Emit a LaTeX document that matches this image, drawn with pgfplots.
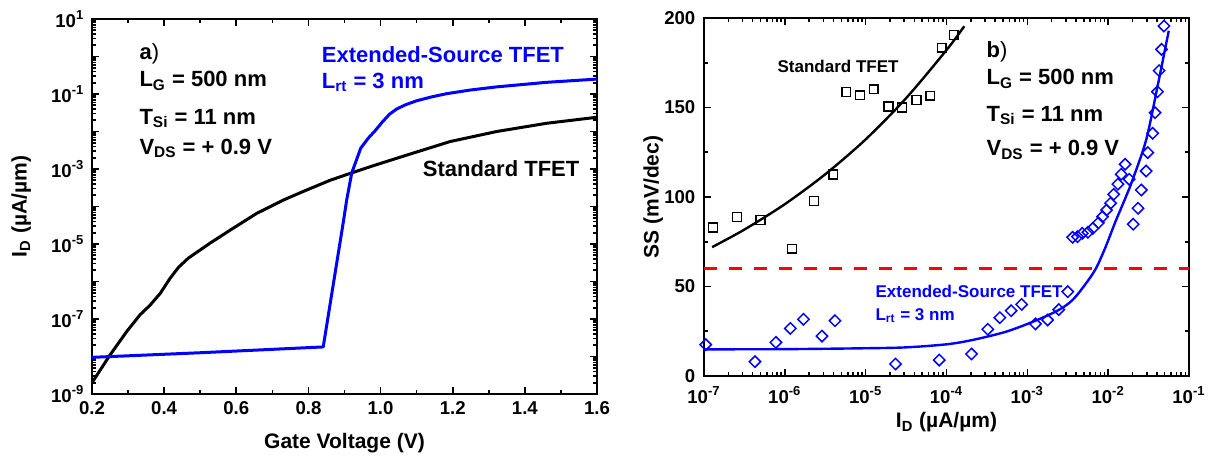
\documentclass[border=0pt]{standalone}
\usepackage{fontspec}
\setmainfont{Liberation Sans}
\usepackage{pgfplots}
\pgfplotsset{compat=1.18}
\newcommand{\bigf}{\fontsize{11}{13}\selectfont\bfseries}
\newcommand{\smallf}{\fontsize{8.5}{10}\selectfont\bfseries}
\newcommand{\labf}{\fontsize{10.5}{12}\selectfont\bfseries}
\pgfplotsset{
  every axis/.append style={line width=1pt, tick style={line width=0.8pt,black}, major tick length=3.5pt, minor tick length=2pt, tick align=inside},
  every tick label/.append style={font=\fontsize{9.3}{11}\selectfont\bfseries},
}
\begin{document}
\begin{tikzpicture}[x=1pt,y=1pt]
\useasboundingbox (0,0) rectangle (606.5,227.5);
% ---------------- left panel
\begin{axis}[
  at={(46pt,30.5pt)}, anchor=south west,
  scale only axis, width=252.5pt, height=187.5pt,
  xmin=0.2, xmax=1.6, ymode=log, ymin=1e-9, ymax=10,
  xtick={0.2,0.4,0.6,0.8,1.0,1.2,1.4,1.6},
  xticklabels={0.2,0.4,0.6,0.8,1.0,1.2,1.4,1.6},
  minor x tick num=1,
  ytick={1e-9,1e-8,1e-7,1e-6,1e-5,1e-4,1e-3,1e-2,1e-1,1,10},
  minor ytick={2e-9,3e-9,4e-9,5e-9,6e-9,7e-9,8e-9,9e-9,
               2e-8,3e-8,4e-8,5e-8,6e-8,7e-8,8e-8,9e-8,
               2e-7,3e-7,4e-7,5e-7,6e-7,7e-7,8e-7,9e-7,
               2e-6,3e-6,4e-6,5e-6,6e-6,7e-6,8e-6,9e-6,
               2e-5,3e-5,4e-5,5e-5,6e-5,7e-5,8e-5,9e-5,
               2e-4,3e-4,4e-4,5e-4,6e-4,7e-4,8e-4,9e-4,
               2e-3,3e-3,4e-3,5e-3,6e-3,7e-3,8e-3,9e-3,
               2e-2,3e-2,4e-2,5e-2,6e-2,7e-2,8e-2,9e-2,
               0.2,0.3,0.4,0.5,0.6,0.7,0.8,0.9,2,3,4,5,6,7,8,9},
  yticklabels={10\textsuperscript{-9},{},10\textsuperscript{-7},{},10\textsuperscript{-5},{},10\textsuperscript{-3},{},10\textsuperscript{-1},{},10\textsuperscript{1}},
  xlabel={Gate Voltage (V)},
  ylabel={I\textsubscript{D} (µA/µm)},
  xlabel style={font=\labf, at={(axis description cs:0.5,-0.13)}, anchor=center},
  ylabel style={font=\labf, at={(axis description cs:-0.14,0.5)}, anchor=center},
  clip=true,
]
\addplot[black, line width=1.5pt, line join=round] coordinates {
(0.200,2.0e-9) (0.25,1.1e-8) (0.296,4.6e-8) (0.333,1.29e-7) (0.361,2.34e-7)
(0.389,4.8e-7) (0.416,1.2e-6) (0.44,2.4e-6) (0.467,4.2e-6) (0.527,1.05e-5)
(0.583,2.34e-5) (0.657,6.6e-5) (0.730,1.48e-4) (0.795,2.75e-4) (0.86,5.0e-4)
(0.92,7.9e-4) (0.971,1.15e-3) (1.072,2.34e-3) (1.193,5.4e-3) (1.322,1.0e-2)
(1.461,1.66e-2) (1.6,2.4e-2)
};
\addplot[blue, line width=1.5pt, line join=round] coordinates {
(0.2,9.5e-9) (0.5,1.26e-8) (0.841,1.8e-8) (0.897,4.0e-5) (0.906,1.48e-4)
(0.92,7.8e-4) (0.945,3.6e-3) (0.965,6.5e-3) (0.985,1.05e-2) (1.005,1.8e-2)
(1.025,2.9e-2) (1.045,4.0e-2) (1.07,5.2e-2) (1.1,6.6e-2) (1.14,8.3e-2)
(1.183,0.102) (1.25,0.128) (1.322,0.155) (1.461,0.205) (1.6,0.25)
};
\node[anchor=base west, font=\bigf] at (axis description cs:0.079,0.893) {a\textmd{)}};
\node[anchor=base west, font=\bigf] at (axis description cs:0.079,0.819) {L\textsubscript{G} = 500 nm};
\node[anchor=base west, font=\bigf] at (axis description cs:0.079,0.720) {T\textsubscript{Si} = 11 nm};
\node[anchor=base west, font=\bigf] at (axis description cs:0.079,0.640) {V\textsubscript{DS} = + 0.9 V};
\node[anchor=base west, font=\bigf, text=blue] at (axis description cs:0.44,0.883) {Extended-Source TFET};
\node[anchor=base west, font=\bigf, text=blue] at (axis description cs:0.44,0.816) {L\textsubscript{rt} = 3 nm};
\node[anchor=base west, font=\bigf] at (axis description cs:0.64,0.579) {Standard TFET};
\end{axis}
% ---------------- right panel
\begin{axis}[
  at={(352pt,39.5pt)}, anchor=south west,
  scale only axis, width=242.5pt, height=179pt,
  xmode=log, xmin=1e-7, xmax=1e-1, ymin=0, ymax=200,
  xtick={1e-7,1e-6,1e-5,1e-4,1e-3,1e-2,1e-1},
  minor xtick={2e-7,3e-7,4e-7,5e-7,6e-7,7e-7,8e-7,9e-7,
               2e-6,3e-6,4e-6,5e-6,6e-6,7e-6,8e-6,9e-6,
               2e-5,3e-5,4e-5,5e-5,6e-5,7e-5,8e-5,9e-5,
               2e-4,3e-4,4e-4,5e-4,6e-4,7e-4,8e-4,9e-4,
               2e-3,3e-3,4e-3,5e-3,6e-3,7e-3,8e-3,9e-3,
               2e-2,3e-2,4e-2,5e-2,6e-2,7e-2,8e-2,9e-2},
  xticklabels={10\textsuperscript{-7},10\textsuperscript{-6},10\textsuperscript{-5},10\textsuperscript{-4},10\textsuperscript{-3},10\textsuperscript{-2},10\textsuperscript{-1}},
  xticklabel style={yshift=-1.5pt},
  yticklabel style={xshift=-0.5pt},
  ytick={0,50,100,150,200},
  yticklabels={0,50,100,150,200},
  minor y tick num=1,
  xlabel={I\textsubscript{D} (µA/µm)},
  ylabel={SS (mV/dec)},
  xlabel style={font=\labf, at={(axis description cs:0.5,-0.13)}, anchor=center},
  ylabel style={font=\labf, at={(axis description cs:-0.105,0.5)}, anchor=center},
  clip=true,
]
\addplot[red, line width=1.5pt, dash pattern=on 6.5pt off 6pt] coordinates {(1e-7,60) (1e-1,60)};
\addplot[black, only marks, mark=square, mark size=2.2pt, mark options={line width=0.75pt}] coordinates {
(1.29e-7,82.9) (2.57e-7,88.8) (5.01e-7,87.2) (1.23e-6,71.1) (2.29e-6,97.8)
(3.98e-6,112.5) (5.75e-6,158.7) (8.51e-6,156.8) (1.26e-5,160.2) (1.91e-5,150.5)
(2.82e-5,150.0) (4.27e-5,154.2) (6.31e-5,156.6) (8.71e-5,183.4) (1.23e-4,190.5)
};
\addplot[black, line width=1.2pt, smooth] coordinates {
(1.26e-7,72) (3.16e-7,81.8) (1e-6,96.0) (3.16e-6,112.7) (1e-5,132.2)
(3.16e-5,155.2) (1e-4,182.1) (1.66e-4,195.4)
};
\addplot[blue, only marks, mark=square, mark size=2pt, mark options={line width=0.75pt, rotate=45}] coordinates {
(1.05e-7,17.5) (4.27e-7,8.0) (7.76e-7,18.8) (1.17e-6,26.6) (1.70e-6,31.7)
(2.88e-6,22.3) (4.17e-6,30.9) (2.34e-5,6.7) (8.13e-5,8.9) (2.04e-4,12.3)
(3.24e-4,26.1) (4.57e-4,32.6) (6.31e-4,36.5) (8.51e-4,40.0) (1.26e-3,29.1)
(1.78e-3,31.3) (2.45e-3,37.1) (3.16e-3,47.1) (3.63e-3,77.5) (4.17e-3,77.8)
(4.79e-3,79.7) (5.62e-3,80.3) (6.46e-3,82.5) (7.59e-3,85.6) (8.51e-3,89.0)
(9.55e-3,92.7) (1.07e-2,96.5) (1.17e-2,101.5) (1.32e-2,107.2) (1.45e-2,112.7)
(1.62e-2,118.3) (1.82e-2,109.9) (2.04e-2,84.8) (2.34e-2,93.7) (2.57e-2,103.9)
(2.95e-2,114.5) (3.09e-2,124.8) (3.55e-2,135.6) (3.80e-2,147.1) (4.07e-2,158.8)
(4.27e-2,170.6) (4.57e-2,182.5) (4.90e-2,195.5)
};
\addplot[blue, line width=1.2pt, smooth] coordinates {
(1e-7,14.9) (1e-6,15.0) (1e-5,15.5) (3.16e-5,16.0) (1e-4,17.7) (2.09e-4,20.1)
(5.5e-4,24.8) (1.26e-3,30.9) (2.45e-3,36.9) (3.63e-3,42.5) (5.25e-3,51.4)
(7.08e-3,60.2) (9.33e-3,72.3) (1.23e-2,86.2) (1.66e-2,100.2) (2.0e-2,109.5)
(2.95e-2,131.9) (4.07e-2,161.6) (5.62e-2,192.9)
};
\node[anchor=base west, font=\smallf] at (axis description cs:0.136,0.849) {Standard TFET};
\node[anchor=base west, font=\bigf] at (axis description cs:0.567,0.891) {b\textmd{)}};
\node[anchor=base west, font=\bigf] at (axis description cs:0.567,0.813) {L\textsubscript{G} = 500 nm};
\node[anchor=base west, font=\bigf] at (axis description cs:0.567,0.712) {T\textsubscript{Si} = 11 nm};
\node[anchor=base west, font=\bigf] at (axis description cs:0.567,0.615) {V\textsubscript{DS} = + 0.9 V};
\node[anchor=base west, font=\smallf, text=blue] at (axis description cs:0.338,0.218) {Extended-Source TFET};
\node[anchor=base west, font=\smallf, text=blue] at (axis description cs:0.338,0.156) {L\textsubscript{rt} = 3 nm};
\end{axis}
\end{tikzpicture}
\end{document}
